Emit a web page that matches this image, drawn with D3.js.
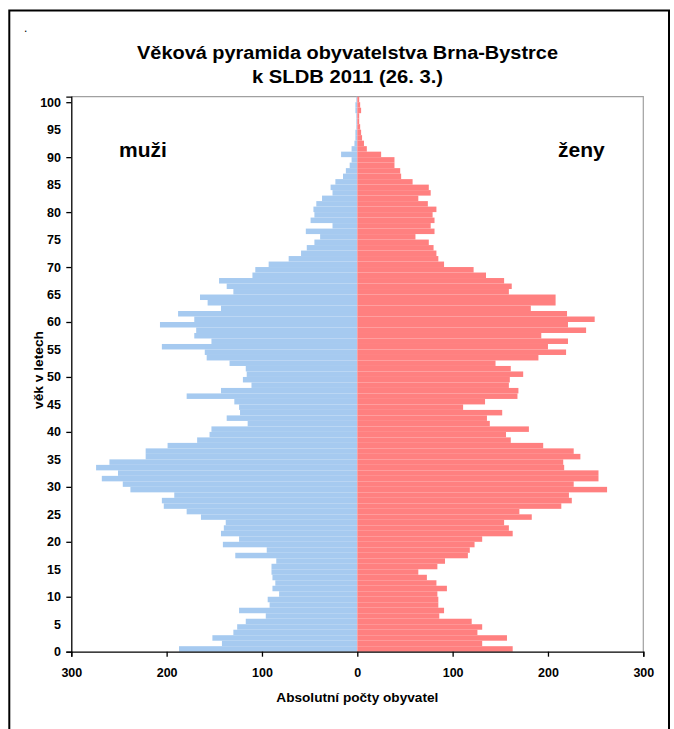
<!DOCTYPE html>
<html>
<head>
<meta charset="utf-8">
<script src="https://cdn.jsdelivr.net/npm/d3@7"></script>
<style>
  html, body { margin: 0; padding: 0; background: #fff; }
  svg { display: block; }
  text { font-family: "Liberation Sans", Arial, sans-serif; font-weight: bold; fill: #000; }
</style>
</head>
<body>
<svg id="chart" width="674" height="729"></svg>
<script>
// ---- data ----
const ages = d3.range(0, 101);
const male = [
  187, 142, 152, 130, 126, 117, 96, 124, 92, 94,
  82, 89, 86, 89, 90, 90, 85, 128, 95, 141,
  124, 143, 140, 138, 164, 179, 203, 205, 192, 238,
  246, 268, 251, 274, 260, 222, 222, 199, 168, 155,
  153, 115, 137, 123, 124, 129, 179, 143, 111, 120,
  116, 117, 134, 158, 160, 205, 153, 171, 169, 207,
  171, 188, 143, 157, 165, 130, 137, 145, 110, 107,
  93, 72, 59, 53, 45, 39, 54, 26, 49, 45,
  46, 43, 37, 26, 28, 23, 15, 12, 8, 6,
  17, 6, 3, 2, 2, 1, 1, 1, 2, 2, 1
];
const female = [
  163, 131, 157, 126, 131, 120, 86, 91, 85, 85,
  84, 94, 83, 73, 64, 84, 92, 116, 118, 123,
  131, 163, 159, 154, 183, 170, 214, 225, 222, 262,
  227, 253, 253, 217, 216, 234, 227, 195, 161, 156,
  180, 139, 136, 152, 111, 134, 168, 169, 159, 160,
  174, 161, 145, 190, 219, 200, 221, 193, 240, 221,
  249, 220, 182, 208, 208, 159, 162, 154, 135, 122,
  91, 85, 83, 80, 75, 61, 81, 77, 81, 79,
  83, 74, 64, 77, 75, 58, 46, 45, 39, 39,
  25, 10, 7, 5, 4, 3, 2, 2, 4, 3, 2
];
const xTickValues = [-300, -200, -100, 0, 100, 200, 300];
const yLabelAges = d3.range(0, 101, 5);
const yTickAges = d3.range(0, 101, 10);
const titleLines = ["Věková pyramida obyvatelstva Brna-Bystrce", "k SLDB 2011 (26. 3.)"];

// ---- layout ----
const svg = d3.select("#chart");
const plot = { left: 71.3, right: 643.3, top: 96.7, bottom: 651.7 };
const zeroX = (plot.left + plot.right) / 2;

const x = d3.scaleLinear().domain([-300, 300]).range([plot.left, plot.right]);
const y = d3.scaleLinear().domain([0, 101]).range([plot.bottom, plot.top]);

// outer frame
svg.append("rect")
  .attr("x", 9.3).attr("y", 10.5)
  .attr("width", 669 - 9.3).attr("height", 740)
  .attr("fill", "none").attr("stroke", "#000").attr("stroke-width", 2);

svg.append("text").attr("x", 24).attr("y", 32).style("font-size", "12px").style("font-weight", "normal").text(".");

// title
const titleWidths = [421, 191];
svg.selectAll("text.title").data(titleLines).enter().append("text")
  .attr("class", "title")
  .attr("x", 347.5)
  .attr("y", (d, i) => 58.5 + i * 24)
  .attr("text-anchor", "middle")
  .attr("textLength", (d, i) => titleWidths[i])
  .attr("lengthAdjust", "spacingAndGlyphs")
  .style("font-size", "18px")
  .text(d => d);

// plot border (gray top/right)
svg.append("path")
  .attr("d", `M${plot.left},${plot.top}H${plot.right}V${plot.bottom}`)
  .attr("fill", "none").attr("stroke", "#a0a0a0").attr("stroke-width", 1.2);

// bars
const gBars = svg.append("g");
gBars.selectAll("rect.m").data(ages).enter().append("rect")
  .attr("class", "m")
  .attr("x", a => x(-male[a]))
  .attr("y", a => y(a + 1))
  .attr("width", a => zeroX - x(-male[a]))
  .attr("height", a => y(a) - y(a + 1))
  .attr("fill", "#A6CAF0");
gBars.selectAll("rect.f").data(ages).enter().append("rect")
  .attr("class", "f")
  .attr("x", zeroX)
  .attr("y", a => y(a + 1))
  .attr("width", a => x(female[a]) - zeroX)
  .attr("height", a => y(a) - y(a + 1))
  .attr("fill", "#FF8080");

// y axis
const yAxis = d3.axisLeft(y).tickValues(yTickAges).tickSize(5).tickFormat("");
const gy = svg.append("g").attr("transform", `translate(${plot.left},0)`).call(yAxis);
gy.select(".domain").attr("stroke", "#000").attr("stroke-width", 1.3);
gy.selectAll(".tick line").attr("stroke", "#000").attr("stroke-width", 1.3);
svg.selectAll("text.ylab").data(yLabelAges).enter().append("text")
  .attr("class", "ylab")
  .attr("x", 61)
  .attr("y", a => y(a) + 4.5)
  .attr("text-anchor", "end")
  .style("font-size", "12.5px")
  .text(a => a);

// x axis
const xAxis = d3.axisBottom(x).tickValues(xTickValues).tickSize(5).tickFormat(d => Math.abs(d));
const gx = svg.append("g").attr("transform", `translate(0,${plot.bottom})`).call(xAxis);
gx.select(".domain").attr("stroke", "#000").attr("stroke-width", 1.3);
gx.selectAll(".tick line").attr("stroke", "#000").attr("stroke-width", 1.3);
gx.selectAll(".tick text")
  .attr("y", 0).attr("dy", null)
  .attr("transform", "translate(0,25.5)")
  .style("font-size", "12.5px")
  .style("font-family", '"Liberation Sans", Arial, sans-serif')
  .style("font-weight", "bold")
  .attr("fill", "#000");

// axis titles
svg.append("text")
  .attr("x", zeroX).attr("y", 701.5)
  .attr("text-anchor", "middle")
  .attr("textLength", 162)
  .attr("lengthAdjust", "spacingAndGlyphs")
  .style("font-size", "13px")
  .text("Absolutní počty obyvatel");

svg.append("text")
  .attr("transform", "translate(43,370) rotate(-90)")
  .attr("text-anchor", "middle")
  .attr("textLength", 78)
  .attr("lengthAdjust", "spacingAndGlyphs")
  .style("font-size", "13.5px")
  .text("věk v letech");

// sex labels
svg.append("text").attr("x", 119).attr("y", 156.5).style("font-size", "21px").text("muži");
svg.append("text").attr("x", 558).attr("y", 156.5).style("font-size", "21px").text("ženy");
</script>
</body>
</html>
